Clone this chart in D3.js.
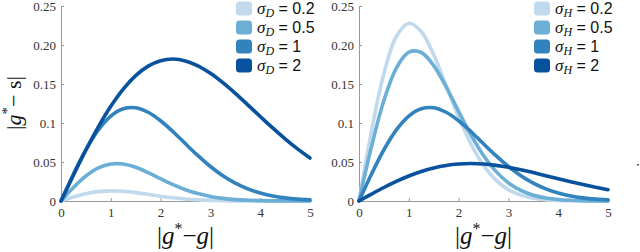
<!DOCTYPE html>
<html><head><meta charset="utf-8">
<script src="https://cdn.jsdelivr.net/npm/d3@7/dist/d3.min.js"></script>
<style>body{margin:0;background:#fff}svg{display:block}</style>
</head><body>
<svg id="c" width="640" height="252"></svg>
<script>
const xs = [0,0.25,0.5,0.75,1,1.25,1.5,1.75,2,2.25,2.5,2.75,3,3.25,3.5,3.75,4,4.25,4.5,4.75,5];
const sigmas = ["0.2","0.5","1","2"];
const colors = ["#c0d9ed","#6baed6","#3182bd","#08519c"];
const leftSeries = [
  [0,0.0051,0.0093,0.012,0.013,0.0124,0.0107,0.0084,0.0061,0.0041,0.0026,0.0015,0.0008,0.0004,0.0002,0.0001,0,0,0,0,0],
  [0,0.0173,0.032,0.0424,0.0474,0.0474,0.0432,0.0364,0.0286,0.021,0.0145,0.0095,0.0058,0.0034,0.0018,0.001,0.0005,0.0002,0.0001,0,0],
  [0,0.0344,0.0657,0.0912,0.1089,0.1183,0.1196,0.1138,0.1029,0.0888,0.0733,0.0581,0.0442,0.0324,0.0229,0.0156,0.0102,0.0065,0.004,0.0024,0.0014],
  [0,0.0333,0.0654,0.0951,0.1214,0.1435,0.1607,0.1729,0.1799,0.182,0.1796,0.1733,0.1637,0.1517,0.138,0.1233,0.1084,0.0937,0.0797,0.0668,0.0551]
];
const rightSeries = [
  [0,0.0894,0.1634,0.2109,0.2279,0.2174,0.1875,0.148,0.1078,0.0728,0.0457,0.0268,0.0146,0.0075,0.0036,0.0016,0.0007,0.0003,0.0001,0,0],
  [0,0.0694,0.1288,0.1704,0.1908,0.1904,0.1736,0.1463,0.1149,0.0845,0.0584,0.038,0.0233,0.0135,0.0074,0.0039,0.0019,0.0009,0.0004,0.0002,0.0001],
  [0,0.0344,0.0657,0.0912,0.1089,0.1183,0.1196,0.1138,0.1029,0.0888,0.0733,0.0581,0.0442,0.0324,0.0229,0.0156,0.0102,0.0065,0.004,0.0024,0.0014],
  [0,0.0088,0.0173,0.0251,0.032,0.0378,0.0424,0.0456,0.0474,0.048,0.0474,0.0457,0.0432,0.04,0.0364,0.0325,0.0286,0.0247,0.021,0.0176,0.0145]
];
const xTicks = [0,1,2,3,4,5];
const yTicks = [0,0.05,0.1,0.15,0.2,0.25];
const yTickLabels = ["0","0.05","0.1","0.15","0.20","0.25"];

const SERIF = '"Liberation Serif", "DejaVu Serif", serif';
const SANS = '"Liberation Sans", "DejaVu Sans", sans-serif';
const svg = d3.select("#c");

function panel(x0, x1, series, sub, showY){
  const x = d3.scaleLinear().domain([0,5]).range([x0,x1]);
  const y = d3.scaleLinear().domain([0,0.25]).range([201,6]);
  const g = svg.append("g");
  const ax = g.append("g").attr("transform","translate(0,201)")
    .call(d3.axisBottom(x).tickValues(xTicks).tickSize(-3).tickPadding(7).tickFormat(d3.format("d")));
  const ay = g.append("g").attr("transform",`translate(${x0},0)`)
    .call(d3.axisLeft(y).tickValues(yTicks).tickSize(-3).tickPadding(5).tickFormat((d,i)=>yTickLabels[i]));
  [ax,ay].forEach(a=>{
    a.attr("font-family",null).attr("font-size",null);
    a.select(".domain").attr("stroke","#999").attr("stroke-width",1);
    a.selectAll(".tick line").attr("stroke","#999");
    a.selectAll("text").style("font-family",SERIF).style("font-size","13px").attr("fill","#333");
  });
  const line = d3.line().x((d,i)=>x(xs[i])).y(d=>y(d)).curve(d3.curveCatmullRom.alpha(0.5));
  series.forEach((s,k)=>{
    g.append("path").attr("d",line(s)).attr("fill","none")
      .attr("stroke",colors[k]).attr("stroke-width",3.6).attr("stroke-linecap","round").attr("stroke-linejoin","round");
  });
  const lx = x1 - 74;
  sigmas.forEach((s,k)=>{
    const cy = 8.5 + k*19;
    g.append("rect").attr("x",lx).attr("y",cy-7).attr("width",16).attr("height",14).attr("rx",3.5)
      .attr("fill",colors[k]);
    const t = g.append("text").attr("x",lx+21).attr("y",cy+5.5).style("font-family",SERIF).style("font-size","17px").attr("fill","#111");
    t.append("tspan").style("font-style","italic").text("σ");
    t.append("tspan").style("font-style","italic").style("font-size","12px").attr("dy",3).text(sub);
    t.append("tspan").style("font-family",SANS).style("font-size","16px").attr("dy",-3).text(" = " + s);
  });
  const xl = g.append("text").attr("x",(x0+x1)/2).attr("y",244).attr("text-anchor","middle")
    .style("font-family",SERIF).style("font-size","25px").attr("fill","#111");
  xl.append("tspan").text("|");
  xl.append("tspan").style("font-style","italic").text("g");
  xl.append("tspan").style("font-size","16px").attr("dy",-10).text("*");
  xl.append("tspan").attr("dy",10).text("−");
  xl.append("tspan").style("font-style","italic").text("g");
  xl.append("tspan").text("|");
  if(showY){
    const yl = g.append("text").attr("transform","translate(21,103) rotate(-90)").attr("text-anchor","middle")
      .style("font-family",SERIF).style("font-size","22px").attr("fill","#111");
    yl.append("tspan").text("|");
    yl.append("tspan").style("font-style","italic").text("g");
    yl.append("tspan").style("font-size","15px").attr("dy",-9).text("*");
    yl.append("tspan").attr("dy",9).text("− s");
    yl.append("tspan").text("|");
  }
}
panel(61, 310, leftSeries, "D", true);
panel(359, 608, rightSeries, "H", false);
svg.append("rect").attr("x",637).attr("y",164).attr("width",2).attr("height",1.5).attr("fill","#555");
</script>
</body></html>
